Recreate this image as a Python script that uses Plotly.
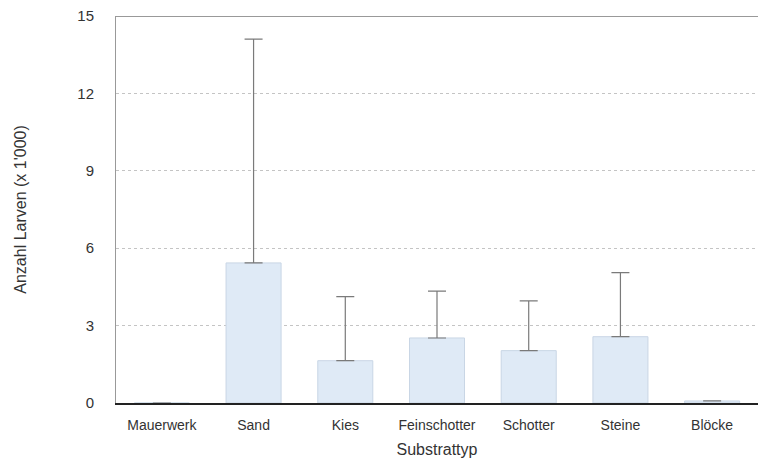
import plotly.graph_objects as go

# Larvendichte je Substrattyp (Mittelwert und obere Streuung, in Tausend)
substrate = ["Mauerwerk", "Sand", "Kies", "Feinschotter", "Schotter", "Steine", "Blöcke"]
mittelwert = [0.0, 5.43, 1.64, 2.52, 2.03, 2.57, 0.08]
oberer_fehler = [0.0, 8.67, 2.48, 1.82, 1.93, 2.48, 0.0]
y_ticks = [0, 3, 6, 9, 12, 15]

fig = go.Figure()
fig.add_trace(go.Bar(
    x=substrate,
    y=mittelwert,
    width=0.6,
    marker=dict(color="#dfeaf6", line=dict(color="#c9d6e5", width=1)),
    error_y=dict(type="data", symmetric=False, array=oberer_fehler,
                 arrayminus=[0] * len(substrate),
                 color="#7a7a7a", thickness=1.2, width=9),
))

fig.update_layout(
    width=759, height=464,
    margin=dict(l=116, r=1, t=16, b=61),
    paper_bgcolor="white", plot_bgcolor="white",
    showlegend=False,
    font=dict(family="Liberation Sans, Arial, sans-serif", color="#333333", size=13),
    xaxis=dict(
        range=[-0.5, 6.5],
        showline=True, linecolor="#222222", linewidth=2,
        ticks="", ticklabelstandoff=8,
        tickfont=dict(size=14, color="#333333"),
        title=dict(text="Substrattyp", font=dict(size=16, color="#333333"), standoff=12),
    ),
    yaxis=dict(
        range=[0, 15], tickvals=y_ticks,
        showline=True, linecolor="#999999", linewidth=1,
        showgrid=True, gridcolor="#c4c4c4", griddash="dot", gridwidth=1,
        zeroline=False, ticks="", ticklen=0, ticklabelstandoff=18,
        tickfont=dict(size=15, color="#333333"),
        title=dict(text="Anzahl Larven (x 1'000)", font=dict(size=16, color="#333333"), standoff=46),
    ),
)

# obere Begrenzungslinie bei 15
fig.add_shape(type="line", xref="paper", yref="y", x0=0, x1=1, y0=15, y1=15,
              line=dict(color="#777777", width=1.5))

fig.write_html("out.html")
